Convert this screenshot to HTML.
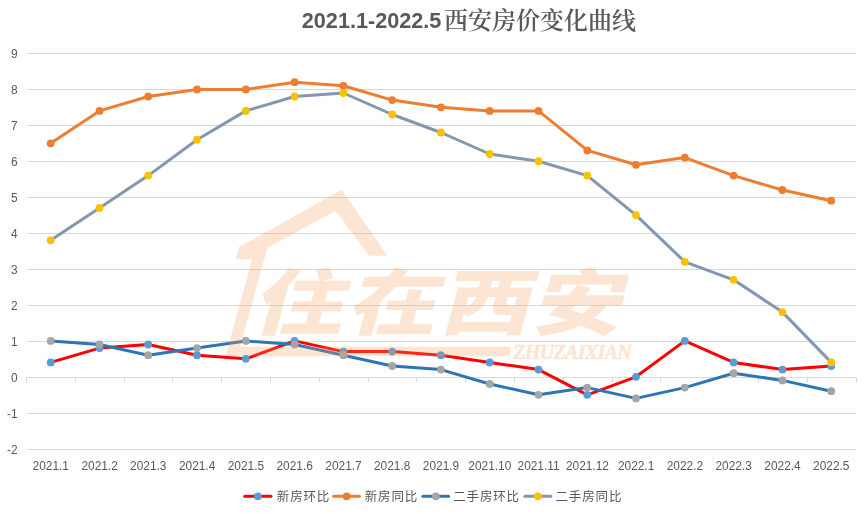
<!DOCTYPE html>
<html lang="zh"><head><meta charset="utf-8"><title>2021.1-2022.5西安房价变化曲线</title>
<style>
html,body{margin:0;padding:0;background:#fff;}
body{width:867px;height:514px;overflow:hidden;}
svg{display:block;}
.ax{font-family:"Liberation Sans","Noto Sans CJK SC",sans-serif;font-size:11.9px;fill:#595959;}
.tt{font-family:"Liberation Sans","Noto Sans CJK SC",sans-serif;font-size:21.5px;font-weight:bold;fill:#595959;}
.tc{font-family:"Noto Serif CJK SC","Liberation Serif",serif;font-size:24px;font-weight:600;fill:#595959;}
.wmc{font-family:"Noto Sans CJK SC","Liberation Sans",sans-serif;font-weight:900;font-size:72px;}
.wml{font-family:"Liberation Serif",serif;font-weight:bold;font-style:italic;font-size:20px;stroke:#f79a54;stroke-width:0.7px;}
.lg{font-family:"Liberation Sans","Noto Sans CJK SC",sans-serif;font-size:12.5px;fill:#595959;letter-spacing:0.85px;}
</style></head><body>
<svg width="867" height="514" viewBox="0 0 867 514">
<rect width="867" height="514" fill="#fff"/>
<line x1="27.0" x2="856.3" y1="449.5" y2="449.5" stroke="#d9d9d9" stroke-width="1"/>
<line x1="27.0" x2="856.3" y1="413.5" y2="413.5" stroke="#d9d9d9" stroke-width="1"/>
<line x1="27.0" x2="856.3" y1="377.5" y2="377.5" stroke="#d9d9d9" stroke-width="1"/>
<line x1="27.0" x2="856.3" y1="341.5" y2="341.5" stroke="#d9d9d9" stroke-width="1"/>
<line x1="27.0" x2="856.3" y1="305.5" y2="305.5" stroke="#d9d9d9" stroke-width="1"/>
<line x1="27.0" x2="856.3" y1="269.5" y2="269.5" stroke="#d9d9d9" stroke-width="1"/>
<line x1="27.0" x2="856.3" y1="233.5" y2="233.5" stroke="#d9d9d9" stroke-width="1"/>
<line x1="27.0" x2="856.3" y1="197.5" y2="197.5" stroke="#d9d9d9" stroke-width="1"/>
<line x1="27.0" x2="856.3" y1="161.5" y2="161.5" stroke="#d9d9d9" stroke-width="1"/>
<line x1="27.0" x2="856.3" y1="125.5" y2="125.5" stroke="#d9d9d9" stroke-width="1"/>
<line x1="27.0" x2="856.3" y1="89.5" y2="89.5" stroke="#d9d9d9" stroke-width="1"/>
<line x1="27.0" x2="856.3" y1="53.5" y2="53.5" stroke="#d9d9d9" stroke-width="1"/>
<line x1="26.5" x2="26.5" y1="377.5" y2="382.5" stroke="#d9d9d9" stroke-width="1"/>
<line x1="75.5" x2="75.5" y1="377.5" y2="382.5" stroke="#d9d9d9" stroke-width="1"/>
<line x1="124.5" x2="124.5" y1="377.5" y2="382.5" stroke="#d9d9d9" stroke-width="1"/>
<line x1="172.5" x2="172.5" y1="377.5" y2="382.5" stroke="#d9d9d9" stroke-width="1"/>
<line x1="221.5" x2="221.5" y1="377.5" y2="382.5" stroke="#d9d9d9" stroke-width="1"/>
<line x1="270.5" x2="270.5" y1="377.5" y2="382.5" stroke="#d9d9d9" stroke-width="1"/>
<line x1="319.5" x2="319.5" y1="377.5" y2="382.5" stroke="#d9d9d9" stroke-width="1"/>
<line x1="368.5" x2="368.5" y1="377.5" y2="382.5" stroke="#d9d9d9" stroke-width="1"/>
<line x1="416.5" x2="416.5" y1="377.5" y2="382.5" stroke="#d9d9d9" stroke-width="1"/>
<line x1="465.5" x2="465.5" y1="377.5" y2="382.5" stroke="#d9d9d9" stroke-width="1"/>
<line x1="514.5" x2="514.5" y1="377.5" y2="382.5" stroke="#d9d9d9" stroke-width="1"/>
<line x1="563.5" x2="563.5" y1="377.5" y2="382.5" stroke="#d9d9d9" stroke-width="1"/>
<line x1="612.5" x2="612.5" y1="377.5" y2="382.5" stroke="#d9d9d9" stroke-width="1"/>
<line x1="660.5" x2="660.5" y1="377.5" y2="382.5" stroke="#d9d9d9" stroke-width="1"/>
<line x1="709.5" x2="709.5" y1="377.5" y2="382.5" stroke="#d9d9d9" stroke-width="1"/>
<line x1="758.5" x2="758.5" y1="377.5" y2="382.5" stroke="#d9d9d9" stroke-width="1"/>
<line x1="807.5" x2="807.5" y1="377.5" y2="382.5" stroke="#d9d9d9" stroke-width="1"/>
<line x1="856.5" x2="856.5" y1="377.5" y2="382.5" stroke="#d9d9d9" stroke-width="1"/>
<text class="ax" x="17.5" y="453.8" text-anchor="end">-2</text>
<text class="ax" x="17.5" y="417.8" text-anchor="end">-1</text>
<text class="ax" x="17.5" y="381.8" text-anchor="end">0</text>
<text class="ax" x="17.5" y="345.8" text-anchor="end">1</text>
<text class="ax" x="17.5" y="309.8" text-anchor="end">2</text>
<text class="ax" x="17.5" y="273.8" text-anchor="end">3</text>
<text class="ax" x="17.5" y="237.8" text-anchor="end">4</text>
<text class="ax" x="17.5" y="201.8" text-anchor="end">5</text>
<text class="ax" x="17.5" y="165.8" text-anchor="end">6</text>
<text class="ax" x="17.5" y="129.8" text-anchor="end">7</text>
<text class="ax" x="17.5" y="93.8" text-anchor="end">8</text>
<text class="ax" x="17.5" y="57.8" text-anchor="end">9</text>
<text class="ax" x="50.8" y="470.4" text-anchor="middle">2021.1</text>
<text class="ax" x="99.6" y="470.4" text-anchor="middle">2021.2</text>
<text class="ax" x="148.3" y="470.4" text-anchor="middle">2021.3</text>
<text class="ax" x="197.1" y="470.4" text-anchor="middle">2021.4</text>
<text class="ax" x="245.9" y="470.4" text-anchor="middle">2021.5</text>
<text class="ax" x="294.7" y="470.4" text-anchor="middle">2021.6</text>
<text class="ax" x="343.5" y="470.4" text-anchor="middle">2021.7</text>
<text class="ax" x="392.2" y="470.4" text-anchor="middle">2021.8</text>
<text class="ax" x="441.0" y="470.4" text-anchor="middle">2021.9</text>
<text class="ax" x="489.8" y="470.4" text-anchor="middle">2021.10</text>
<text class="ax" x="538.6" y="470.4" text-anchor="middle">2021.11</text>
<text class="ax" x="587.4" y="470.4" text-anchor="middle">2021.12</text>
<text class="ax" x="636.1" y="470.4" text-anchor="middle">2022.1</text>
<text class="ax" x="684.9" y="470.4" text-anchor="middle">2022.2</text>
<text class="ax" x="733.7" y="470.4" text-anchor="middle">2022.3</text>
<text class="ax" x="782.5" y="470.4" text-anchor="middle">2022.4</text>
<text class="ax" x="831.3" y="470.4" text-anchor="middle">2022.5</text>
<polyline points="50.7,362.4 99.5,348.1 148.2,344.5 197.0,355.2 245.8,358.8 294.6,340.9 343.4,351.6 392.2,351.6 440.9,355.2 489.7,362.4 538.5,369.6 587.3,394.8 636.0,376.8 684.8,340.9 733.6,362.4 782.4,369.6 831.2,366.0" fill="none" stroke="#ff0000" stroke-width="3" stroke-linejoin="round" stroke-linecap="round"/>
<circle cx="50.7" cy="362.4" r="3.9" fill="#5b9bd5"/>
<circle cx="99.5" cy="348.1" r="3.9" fill="#5b9bd5"/>
<circle cx="148.2" cy="344.5" r="3.9" fill="#5b9bd5"/>
<circle cx="197.0" cy="355.2" r="3.9" fill="#5b9bd5"/>
<circle cx="245.8" cy="358.8" r="3.9" fill="#5b9bd5"/>
<circle cx="294.6" cy="340.9" r="3.9" fill="#5b9bd5"/>
<circle cx="343.4" cy="351.6" r="3.9" fill="#5b9bd5"/>
<circle cx="392.2" cy="351.6" r="3.9" fill="#5b9bd5"/>
<circle cx="440.9" cy="355.2" r="3.9" fill="#5b9bd5"/>
<circle cx="489.7" cy="362.4" r="3.9" fill="#5b9bd5"/>
<circle cx="538.5" cy="369.6" r="3.9" fill="#5b9bd5"/>
<circle cx="587.3" cy="394.8" r="3.9" fill="#5b9bd5"/>
<circle cx="636.0" cy="376.8" r="3.9" fill="#5b9bd5"/>
<circle cx="684.8" cy="340.9" r="3.9" fill="#5b9bd5"/>
<circle cx="733.6" cy="362.4" r="3.9" fill="#5b9bd5"/>
<circle cx="782.4" cy="369.6" r="3.9" fill="#5b9bd5"/>
<circle cx="831.2" cy="366.0" r="3.9" fill="#5b9bd5"/>
<polyline points="50.7,143.3 99.5,110.9 148.2,96.5 197.0,89.4 245.8,89.4 294.6,82.2 343.4,85.8 392.2,100.1 440.9,107.3 489.7,110.9 538.5,110.9 587.3,150.4 636.0,164.8 684.8,157.6 733.6,175.6 782.4,190.0 831.2,200.7" fill="none" stroke="#ed7d31" stroke-width="3" stroke-linejoin="round" stroke-linecap="round"/>
<circle cx="50.7" cy="143.3" r="3.9" fill="#ed7d31"/>
<circle cx="99.5" cy="110.9" r="3.9" fill="#ed7d31"/>
<circle cx="148.2" cy="96.5" r="3.9" fill="#ed7d31"/>
<circle cx="197.0" cy="89.4" r="3.9" fill="#ed7d31"/>
<circle cx="245.8" cy="89.4" r="3.9" fill="#ed7d31"/>
<circle cx="294.6" cy="82.2" r="3.9" fill="#ed7d31"/>
<circle cx="343.4" cy="85.8" r="3.9" fill="#ed7d31"/>
<circle cx="392.2" cy="100.1" r="3.9" fill="#ed7d31"/>
<circle cx="440.9" cy="107.3" r="3.9" fill="#ed7d31"/>
<circle cx="489.7" cy="110.9" r="3.9" fill="#ed7d31"/>
<circle cx="538.5" cy="110.9" r="3.9" fill="#ed7d31"/>
<circle cx="587.3" cy="150.4" r="3.9" fill="#ed7d31"/>
<circle cx="636.0" cy="164.8" r="3.9" fill="#ed7d31"/>
<circle cx="684.8" cy="157.6" r="3.9" fill="#ed7d31"/>
<circle cx="733.6" cy="175.6" r="3.9" fill="#ed7d31"/>
<circle cx="782.4" cy="190.0" r="3.9" fill="#ed7d31"/>
<circle cx="831.2" cy="200.7" r="3.9" fill="#ed7d31"/>
<polyline points="50.7,340.9 99.5,344.5 148.2,355.2 197.0,348.1 245.8,340.9 294.6,344.5 343.4,355.2 392.2,366.0 440.9,369.6 489.7,384.0 538.5,394.8 587.3,387.6 636.0,398.4 684.8,387.6 733.6,373.2 782.4,380.4 831.2,391.2" fill="none" stroke="#2e75b6" stroke-width="3" stroke-linejoin="round" stroke-linecap="round"/>
<circle cx="50.7" cy="340.9" r="3.9" fill="#a5a5a5"/>
<circle cx="99.5" cy="344.5" r="3.9" fill="#a5a5a5"/>
<circle cx="148.2" cy="355.2" r="3.9" fill="#a5a5a5"/>
<circle cx="197.0" cy="348.1" r="3.9" fill="#a5a5a5"/>
<circle cx="245.8" cy="340.9" r="3.9" fill="#a5a5a5"/>
<circle cx="294.6" cy="344.5" r="3.9" fill="#a5a5a5"/>
<circle cx="343.4" cy="355.2" r="3.9" fill="#a5a5a5"/>
<circle cx="392.2" cy="366.0" r="3.9" fill="#a5a5a5"/>
<circle cx="440.9" cy="369.6" r="3.9" fill="#a5a5a5"/>
<circle cx="489.7" cy="384.0" r="3.9" fill="#a5a5a5"/>
<circle cx="538.5" cy="394.8" r="3.9" fill="#a5a5a5"/>
<circle cx="587.3" cy="387.6" r="3.9" fill="#a5a5a5"/>
<circle cx="636.0" cy="398.4" r="3.9" fill="#a5a5a5"/>
<circle cx="684.8" cy="387.6" r="3.9" fill="#a5a5a5"/>
<circle cx="733.6" cy="373.2" r="3.9" fill="#a5a5a5"/>
<circle cx="782.4" cy="380.4" r="3.9" fill="#a5a5a5"/>
<circle cx="831.2" cy="391.2" r="3.9" fill="#a5a5a5"/>
<polyline points="50.7,240.3 99.5,207.9 148.2,175.6 197.0,139.7 245.8,110.9 294.6,96.5 343.4,93.0 392.2,114.5 440.9,132.5 489.7,154.0 538.5,161.2 587.3,175.6 636.0,215.1 684.8,261.8 733.6,279.8 782.4,312.1 831.2,362.4" fill="none" stroke="#8497b0" stroke-width="3" stroke-linejoin="round" stroke-linecap="round"/>
<circle cx="50.7" cy="240.3" r="3.9" fill="#ffc000"/>
<circle cx="99.5" cy="207.9" r="3.9" fill="#ffc000"/>
<circle cx="148.2" cy="175.6" r="3.9" fill="#ffc000"/>
<circle cx="197.0" cy="139.7" r="3.9" fill="#ffc000"/>
<circle cx="245.8" cy="110.9" r="3.9" fill="#ffc000"/>
<circle cx="294.6" cy="96.5" r="3.9" fill="#ffc000"/>
<circle cx="343.4" cy="93.0" r="3.9" fill="#ffc000"/>
<circle cx="392.2" cy="114.5" r="3.9" fill="#ffc000"/>
<circle cx="440.9" cy="132.5" r="3.9" fill="#ffc000"/>
<circle cx="489.7" cy="154.0" r="3.9" fill="#ffc000"/>
<circle cx="538.5" cy="161.2" r="3.9" fill="#ffc000"/>
<circle cx="587.3" cy="175.6" r="3.9" fill="#ffc000"/>
<circle cx="636.0" cy="215.1" r="3.9" fill="#ffc000"/>
<circle cx="684.8" cy="261.8" r="3.9" fill="#ffc000"/>
<circle cx="733.6" cy="279.8" r="3.9" fill="#ffc000"/>
<circle cx="782.4" cy="312.1" r="3.9" fill="#ffc000"/>
<circle cx="831.2" cy="362.4" r="3.9" fill="#ffc000"/>
<text class="tt" x="301.8" y="27.9" textLength="139.6" lengthAdjust="spacingAndGlyphs">2021.1-2022.5</text>
<text class="tc" x="444" y="28.8">西安房价变化曲线</text>
<g class="wm" opacity="0.25" fill="#f79a54">
<path d="M341.8,189.8 L387.5,255.8 L369.1,255.8 L335.6,210.7 L267.3,247.9 L240.0,346.8 L510.2,346.8 L510.2,356.2 L229,356.2 Q225.5,356.2 226.4,352.8 L252.2,259.3 L235.6,259.3 L239.1,247.1 Z"/>
<text class="wmc" transform="translate(251.5,329) skewX(-15) scale(1.25,1)" x="0 75.6 149.6 223.2" y="0">住在西安</text>
<text class="wml" x="513.3" y="359.2" textLength="118.5" lengthAdjust="spacing">ZHUZAIXIAN</text>
</g>
<line x1="244.8" x2="270.9" y1="496.3" y2="496.3" stroke="#ff0000" stroke-width="3" stroke-linecap="round"/>
<circle cx="257.9" cy="496.3" r="3.9" fill="#5b9bd5"/>
<text class="lg" x="276.8" y="501">新房环比</text>
<line x1="333.7" x2="359.5" y1="496.3" y2="496.3" stroke="#ed7d31" stroke-width="3" stroke-linecap="round"/>
<circle cx="346.6" cy="496.3" r="3.9" fill="#ed7d31"/>
<text class="lg" x="364.7" y="501">新房同比</text>
<line x1="422.9" x2="448.6" y1="496.3" y2="496.3" stroke="#2e75b6" stroke-width="3" stroke-linecap="round"/>
<circle cx="435.8" cy="496.3" r="3.9" fill="#a5a5a5"/>
<text class="lg" x="453.2" y="501">二手房环比</text>
<line x1="524.8" x2="550.8" y1="496.3" y2="496.3" stroke="#8497b0" stroke-width="3" stroke-linecap="round"/>
<circle cx="537.8" cy="496.3" r="3.9" fill="#ffc000"/>
<text class="lg" x="555.5" y="501">二手房同比</text>
</svg>
</body></html>
